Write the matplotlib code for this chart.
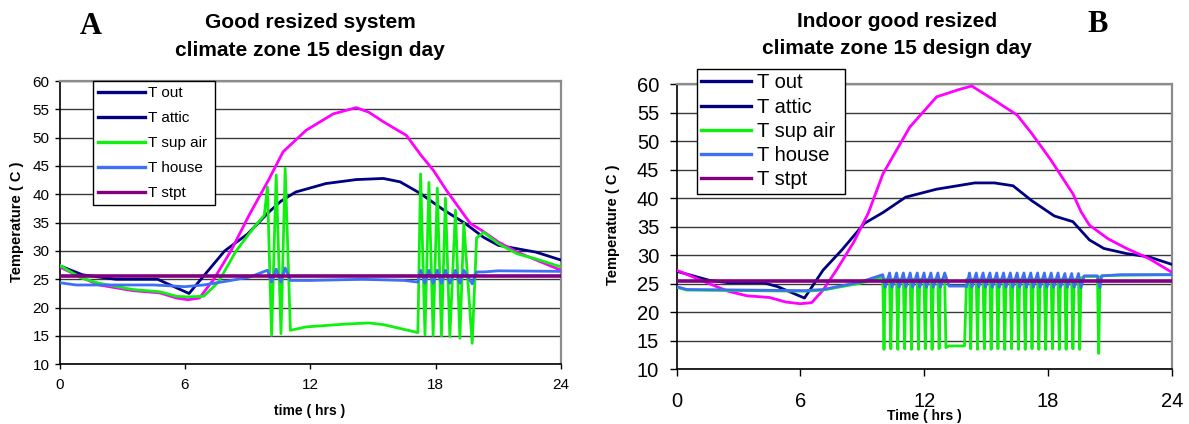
import matplotlib
matplotlib.use("Agg")
import matplotlib.pyplot as plt
from matplotlib.lines import Line2D

# ---------------- Panel A: good resized system ----------------
a_out_t = [0, 1.1, 2.7, 4.7, 6.2, 7.9, 9.0, 10.0, 10.6, 11.3, 12.75, 14.2, 15.5, 16.3,
           17.25, 18.4, 19.4, 20.3, 21.0, 22.8, 24]
a_out_v = [27.4, 25.8, 25.0, 25.0, 22.5, 30.0, 33.0, 36.8, 38.8, 40.4, 41.9, 42.6, 42.8, 42.2,
           40.2, 37.2, 34.9, 32.4, 31.0, 29.8, 28.4]

a_attic_t = [0, 1.0, 1.9, 3.5, 4.8, 5.6, 6.15, 6.7, 7.4, 8.2, 9.1, 10.0, 10.7, 11.8, 13.1,
             14.2, 14.8, 15.5, 16.6, 17.3, 17.9, 18.5, 19.2, 19.65, 20.3, 21.0, 21.9, 24]
a_attic_v = [27.2, 25.4, 24.0, 23.0, 22.6, 21.7, 21.4, 21.7, 25.1, 30.0, 36.5, 42.5, 47.5, 51.3,
             54.2, 55.3, 54.5, 52.8, 50.4, 46.9, 44.2, 40.8, 37.2, 34.9, 33.4, 31.6, 29.8, 26.6]

a_sup_t = [0, 1.0, 1.9, 3.5, 4.8, 5.6, 6.1, 6.9, 7.6, 8.45, 9.27, 9.8,
           9.95, 10.15, 10.37, 10.6, 10.8, 11.05, 11.8, 13.7, 14.8, 15.5, 17.15,
           17.28, 17.49, 17.68, 17.88, 18.08, 18.28, 18.47, 18.68, 18.95, 19.16,
           19.35, 19.75, 19.96, 20.3, 21.0, 21.9, 22.8, 24]
a_sup_v = [27.5, 25.3, 24.3, 23.2, 22.8, 22.0, 21.9, 22.0, 24.5, 30.0, 34.0, 36.3,
           41.3, 15.1, 43.4, 15.4, 44.6, 16.0, 16.6, 17.1, 17.3, 17.0, 15.6,
           43.6, 15.2, 42.1, 15.1, 41.1, 15.0, 39.3, 14.9, 37.2, 14.6,
           34.9, 13.7, 32.3, 33.3, 31.3, 29.5, 28.6, 27.2]

a_house_t = [0, 0.8, 4.5, 6.0, 6.9, 8.2, 9.1, 9.95, 10.15, 10.37, 10.6, 10.8, 11.05, 12.0,
             14.5, 16.5, 17.15, 17.28, 17.49, 17.68, 17.88, 18.08, 18.28, 18.47, 18.68,
             18.95, 19.16, 19.35, 19.75, 19.96, 20.3, 21.0, 24]
a_house_v = [24.4, 24.0, 24.0, 23.7, 24.0, 24.8, 25.4, 26.6, 24.5, 26.8, 24.5, 27.0, 24.8, 24.8,
             25.0, 24.8, 24.5, 26.6, 24.3, 26.6, 24.3, 26.6, 24.3, 26.6, 24.3,
             26.6, 24.3, 26.6, 24.2, 26.3, 26.3, 26.5, 26.4]

a_stpt_t = [0, 24]
a_stpt_v = [25.5, 25.5]

# ---------------- Panel B: indoor good resized ----------------
b_out_t = [0, 1.6, 2.5, 4.2, 4.9, 6.2, 7.1, 8.0, 9.1, 10.0, 11.1, 12.6, 14.45, 15.4, 16.3,
           17.2, 18.3, 19.2, 20.0, 20.7, 21.8, 22.9, 24]
b_out_v = [27.2, 25.6, 25.2, 25.2, 24.5, 22.5, 27.4, 30.9, 35.6, 37.5, 40.2, 41.6, 42.7, 42.7, 42.2,
           39.6, 36.9, 35.9, 32.7, 31.2, 30.3, 29.7, 28.4]

b_attic_t = [0, 1.6, 2.5, 3.4, 4.5, 5.3, 6.0, 6.55, 7.1, 7.8, 8.6, 9.3, 10.0, 11.3, 12.6,
             13.7, 14.3, 15.4, 16.5, 17.2, 18.1, 19.2, 19.6, 20.0, 20.9, 21.8, 22.9, 24]
b_attic_v = [27.4, 25.0, 23.7, 22.9, 22.6, 21.8, 21.5, 21.7, 23.9, 27.7, 32.4, 37.5, 44.3, 52.5, 57.8,
             59.1, 59.7, 57.2, 54.6, 51.4, 46.9, 40.8, 37.6, 35.3, 32.9, 31.2, 29.4, 27.0]

# compressor cycles: cooling switches on, supply air bottoms out, cooling switches off
b_on_t = [9.99, 10.32, 10.66, 10.99, 11.32, 11.66, 11.99, 12.32, 12.66, 12.99,
          14.19, 14.52, 14.85, 15.18, 15.51, 15.84, 16.17, 16.5, 16.83, 17.16,
          17.49, 17.82, 18.15, 18.48, 18.81, 19.14, 19.47, 20.39]
b_low_t = [10.05, 10.38, 10.72, 11.05, 11.38, 11.72, 12.05, 12.38, 12.72, 13.05,
           14.25, 14.58, 14.91, 15.24, 15.57, 15.9, 16.23, 16.56, 16.89, 17.22,
           17.55, 17.88, 18.21, 18.54, 18.87, 19.2, 19.53, 20.45]
b_off_t = [10.11, 10.44, 10.78, 11.11, 11.44, 11.78, 12.11, 12.44, 12.78, 14.05,
           14.31, 14.64, 14.97, 15.3, 15.63, 15.96, 16.29, 16.62, 16.95, 17.28,
           17.61, 17.94, 18.27, 18.6, 18.93, 19.26, 19.59, 20.51]

b_on_sup = [26.2, 25.8, 25.8, 25.8, 25.8, 25.8, 25.8, 25.8, 25.8, 25.8,
            25.8, 25.8, 25.8, 25.8, 25.8, 25.8, 25.8, 25.8, 25.8, 25.8,
            25.8, 25.8, 25.8, 25.8, 25.8, 25.8, 25.8, 26.2]
b_low_sup = [13.5, 13.6, 13.5, 13.6, 13.5, 13.5, 13.6, 13.5, 13.6, 13.8,
             13.6, 13.5, 13.6, 13.5, 13.6, 13.5, 13.6, 13.5, 13.5, 13.6,
             13.5, 13.5, 13.6, 13.5, 13.5, 13.6, 13.5, 12.8]
b_off_sup = [25.8, 25.8, 25.8, 25.8, 25.8, 25.8, 25.8, 25.8, 25.8, 25.8,
             25.8, 25.8, 25.8, 25.8, 25.8, 25.8, 25.8, 25.8, 25.8, 25.8,
             25.8, 25.8, 25.8, 25.8, 25.8, 25.8, 26.0, 26.2]

b_on_house = [26.6, 26.9, 26.9, 26.9, 26.9, 26.9, 26.9, 26.9, 26.9, 26.9,
              26.9, 26.9, 26.9, 26.9, 26.9, 26.9, 26.9, 26.9, 26.9, 26.9,
              26.9, 26.9, 26.9, 26.9, 26.8, 26.8, 26.8, 26.4]
b_off_house = [24.4, 24.4, 24.4, 24.4, 24.4, 24.4, 24.4, 24.4, 24.4, 24.5,
               24.4, 24.4, 24.4, 24.4, 24.4, 24.4, 24.4, 24.4, 24.4, 24.4,
               24.4, 24.4, 24.4, 24.4, 24.4, 24.4, 24.3, 24.3]

# slow-changing parts outside the cycling bursts
b_sup_rest_t = [0, 0.5, 3.4, 6.2, 7.1, 8.9, 13.2, 13.95, 19.75, 20.3, 20.6, 21.5, 24]
b_sup_rest_v = [24.4, 23.9, 23.8, 23.7, 23.9, 25.1, 14.1, 14.1, 26.3, 26.3, 26.4, 26.5, 26.6]
b_house_rest_t = [0, 0.5, 3.4, 6.2, 7.1, 8.9, 13.2, 13.95, 19.75, 20.3, 20.6, 21.5, 24]
b_house_rest_v = [24.5, 24.0, 23.9, 23.8, 24.0, 25.3, 24.6, 24.6, 26.4, 26.4, 26.4, 26.6, 26.6]

b_stpt_t = [0, 24]
b_stpt_v = [25.5, 25.5]

legend_labels = ["T out", "T attic", "T sup air", "T house", "T stpt"]

C_OUT = "#000080"
C_ATTIC = "#ff00ff"
C_SUP = "#10f010"
C_HOUSE = "#3f6ff5"
C_STPT = "#800080"

plt.rcParams["font.family"] = ["Liberation Sans", "DejaVu Sans"]


def merge(*pairs):
    pts = []
    for ts, vs in pairs:
        pts.extend(zip(ts, vs))
    pts.sort(key=lambda p: p[0])
    return [p[0] for p in pts], [p[1] for p in pts]


b_sup_t, b_sup_v = merge((b_sup_rest_t, b_sup_rest_v), (b_on_t, b_on_sup),
                         (b_low_t, b_low_sup), (b_off_t, b_off_sup))
b_house_t, b_house_v = merge((b_house_rest_t, b_house_rest_v), (b_on_t, b_on_house),
                             (b_off_t, b_off_house))

W, H = 1189, 424
fig = plt.figure(figsize=(W / 100, H / 100), dpi=100)
fig.patch.set_facecolor("white")


def px_axes(x0, y0, x1, y1):
    return fig.add_axes([x0 / W, 1 - y1 / H, (x1 - x0) / W, (y1 - y0) / H])


def style(ax, tick_size, tick_len, xpad, ypad):
    ax.set_xlim(0, 24)
    ax.set_ylim(10, 60)
    ax.set_xticks(range(0, 25, 6))
    ax.set_yticks(range(10, 61, 5))
    ax.set_axisbelow(True)
    ax.yaxis.grid(True, color="#3a3a3a", lw=1.0)
    for s in ("top", "right"):
        ax.spines[s].set_color("#8c8c8c")
        ax.spines[s].set_linewidth(1.6)
    for s in ("left", "bottom"):
        ax.spines[s].set_color("black")
        ax.spines[s].set_linewidth(1.2)
    ax.tick_params(axis="both", direction="out", length=tick_len, width=1.0,
                   labelsize=tick_size, colors="black")
    ax.tick_params(axis="x", pad=xpad)
    ax.tick_params(axis="y", pad=ypad)


def draw(ax, out, attic, sup, house, stpt):
    ax.plot(*out, color=C_OUT, lw=2.0, zorder=3)
    ax.plot(*attic, color=C_ATTIC, lw=2.0, zorder=4)
    ax.plot(*sup, color=C_SUP, lw=2.0, zorder=5)
    ax.plot(*house, color=C_HOUSE, lw=2.0, zorder=6)
    ax.plot(*stpt, color=C_STPT, lw=2.6, zorder=7)


def legend(ax, box, fsize, hlen, lspace, bpad, tpad):
    handles = [Line2D([], [], color=c, lw=2.4)
               for c in (C_OUT, C_OUT, C_SUP, C_HOUSE, C_STPT)]
    leg = ax.legend(handles, legend_labels, loc="upper left", bbox_to_anchor=box,
                    mode="expand", fontsize=fsize, handlelength=hlen,
                    labelspacing=lspace, borderpad=bpad, handletextpad=tpad,
                    borderaxespad=0, frameon=True, fancybox=False, framealpha=1)
    leg.get_frame().set_edgecolor("black")
    leg.get_frame().set_linewidth(1.0)
    leg.set_zorder(10)


# Panel A
axA = px_axes(59.5, 81, 561, 364.3)
style(axA, 11, 3.6, 6.0, 3.6)
draw(axA, (a_out_t, a_out_v), (a_attic_t, a_attic_v), (a_sup_t, a_sup_v),
     (a_house_t, a_house_v), (a_stpt_t, a_stpt_v))
legend(axA, ((93 - 59.5) / 501.5, 0.3, (214.5 - 93) / 501.5, 0.7), 11, 3.1, 0.72, 0.32, 0.2)

# Panel B
axB = px_axes(676.5, 84.3, 1172, 369.3)
style(axB, 14.5, 5.0, 11.5, 7.5)
draw(axB, (b_out_t, b_out_v), (b_attic_t, b_attic_v), (b_sup_t, b_sup_v),
     (b_house_t, b_house_v), (b_stpt_t, b_stpt_v))
legend(axB, ((696.5 - 676.5) / 495.5, 0.3, (845 - 696.5) / 495.5, (369.3 - 69) / 285 - 0.3),
       14.5, 2.5, 0.26, 0.22, 0.3)


def ftext(x, y, s, **kw):
    fig.text(x / W, 1 - y / H, s, ha="center", va="center", **kw)


ftext(310, 23, "Good resized system", fontsize=15, fontweight="bold")
ftext(310, 50, "climate zone 15 design day", fontsize=15, fontweight="bold")
ftext(897, 21.5, "Indoor good resized", fontsize=15, fontweight="bold")
ftext(897, 48.5, "climate zone 15 design day", fontsize=15, fontweight="bold")
ftext(91, 26, "A", fontsize=22, fontweight="bold", family=["Liberation Serif", "DejaVu Serif"])
ftext(1097.5, 24, "B", fontsize=22, fontweight="bold", family=["Liberation Serif", "DejaVu Serif"])

ftext(17, 222, "Temperature ( C )", fontsize=10.5, fontweight="bold", rotation=90)
ftext(612.7, 225, "Temperature ( C )", fontsize=10.5, fontweight="bold", rotation=90)
ftext(310, 411, "time ( hrs )", fontsize=10, fontweight="bold")
ftext(924, 416, "Time ( hrs )", fontsize=10, fontweight="bold")

fig.savefig("out.png", dpi=100, facecolor="white")
